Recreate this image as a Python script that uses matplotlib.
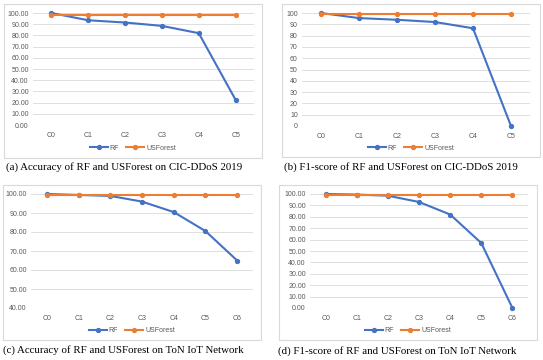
import matplotlib.pyplot as plt
from matplotlib.patches import Rectangle

plt.rcParams['font.family'] = 'Liberation Sans'

W, H = 543, 360

cats_ddos = ['C0', 'C1', 'C2', 'C3', 'C4', 'C5']
cats_ton = ['C0', 'C1', 'C2', 'C3', 'C4', 'C5', 'C6']

rf_acc_ddos = [100.0, 93.5, 91.5, 88.5, 82.0, 22.5]
usf_acc_ddos = [98.5, 98.5, 98.5, 98.5, 98.5, 98.5]
rf_f1_ddos = [100.0, 95.5, 94.0, 92.0, 86.5, 0.0]
usf_f1_ddos = [99.0, 99.0, 99.0, 99.0, 99.0, 99.0]
rf_acc_ton = [100.0, 99.5, 99.0, 96.0, 90.5, 80.5, 65.0]
usf_acc_ton = [99.5, 99.5, 99.5, 99.5, 99.5, 99.5, 99.5]
rf_f1_ton = [100.0, 99.5, 98.5, 93.0, 82.0, 57.0, 0.0]
usf_f1_ton = [99.3, 99.3, 99.3, 99.3, 99.3, 99.3, 99.3]

captions = ['(a) Accuracy of RF and USForest on CIC-DDoS 2019',
            '(b) F1-score of RF and USForest on CIC-DDoS 2019',
            '(c) Accuracy of RF and USForest on ToN IoT Network',
            '(d) F1-score of RF and USForest on ToN IoT Network']

BLUE = '#4472C4'
ORANGE = '#ED7D31'
GRID = '#D9D9D9'
TXT = '#595959'


def fig_rect(x0, y0, x1, y1):
    return [x0 / W, 1 - y1 / H, (x1 - x0) / W, (y1 - y0) / H]


fig = plt.figure(figsize=(W / 100, H / 100), dpi=100)

# box, plot area, y range, tick format, caption position (all in pixels)
panels = [
    dict(box=(4, 4, 262, 158), area=(33, 13, 254, 125), cats=cats_ddos,
         rf=rf_acc_ddos, usf=usf_acc_ddos, ylim=(0, 100), fmt='%.2f',
         legy=148, cap=(6, 167)),
    dict(box=(282, 4, 540, 157), area=(302, 13, 530, 126), cats=cats_ddos,
         rf=rf_f1_ddos, usf=usf_f1_ddos, ylim=(0, 100), fmt='%d',
         legy=148, cap=(284, 167)),
    dict(box=(3, 185, 261, 340), area=(31, 194, 253, 308), cats=cats_ton,
         rf=rf_acc_ton, usf=usf_acc_ton, ylim=(40, 100), fmt='%.2f',
         legy=331, cap=(3, 350)),
    dict(box=(279, 185, 537, 340), area=(310, 194, 528, 308), cats=cats_ton,
         rf=rf_f1_ton, usf=usf_f1_ton, ylim=(0, 100), fmt='%.2f',
         legy=331, cap=(278, 351)),
]

for p, cap in zip(panels, captions):
    bx0, by0, bx1, by1 = p['box']
    fig.patches.append(Rectangle((bx0 / W, 1 - by1 / H), (bx1 - bx0) / W,
                                 (by1 - by0) / H, transform=fig.transFigure,
                                 fill=False, edgecolor=GRID, linewidth=0.8))

    ax = fig.add_axes(fig_rect(*p['area']))
    x = list(range(len(p['cats'])))
    ax.plot(x, p['rf'], color=BLUE, lw=1.5, marker='o', ms=2.8,
            label='RF', clip_on=False, zorder=3)
    ax.plot(x, p['usf'], color=ORANGE, lw=1.5, marker='o', ms=2.8,
            label='USForest', clip_on=False, zorder=4)
    ax.set_xlim(-0.5, len(x) - 0.5)
    ax.set_ylim(*p['ylim'])
    lo, hi = p['ylim']
    ticks = list(range(lo, hi + 1, 10))
    ax.set_yticks(ticks)
    ax.set_yticklabels([p['fmt'] % t for t in ticks])
    ax.set_xticks(x)
    ax.set_xticklabels(p['cats'])
    ax.tick_params(length=0, labelsize=5, labelcolor=TXT)
    ax.tick_params(axis='y', pad=3)
    ax.tick_params(axis='x', pad=5)
    ax.grid(axis='y', color=GRID, lw=0.6)
    ax.set_axisbelow(True)
    for s in ax.spines.values():
        s.set_visible(False)

    fig.legend(*ax.get_legend_handles_labels(), loc='center',
               bbox_to_anchor=((bx0 + bx1) / 2 / W, 1 - p['legy'] / H),
               ncol=2, frameon=False, fontsize=5, labelcolor=TXT,
               handlelength=2.6, columnspacing=1.0, handletextpad=0.3)

    fig.text(p['cap'][0] / W, 1 - p['cap'][1] / H, cap, ha='left',
             va='center', fontsize=7.8, family='Liberation Serif')

fig.savefig('out.png', dpi=100)
